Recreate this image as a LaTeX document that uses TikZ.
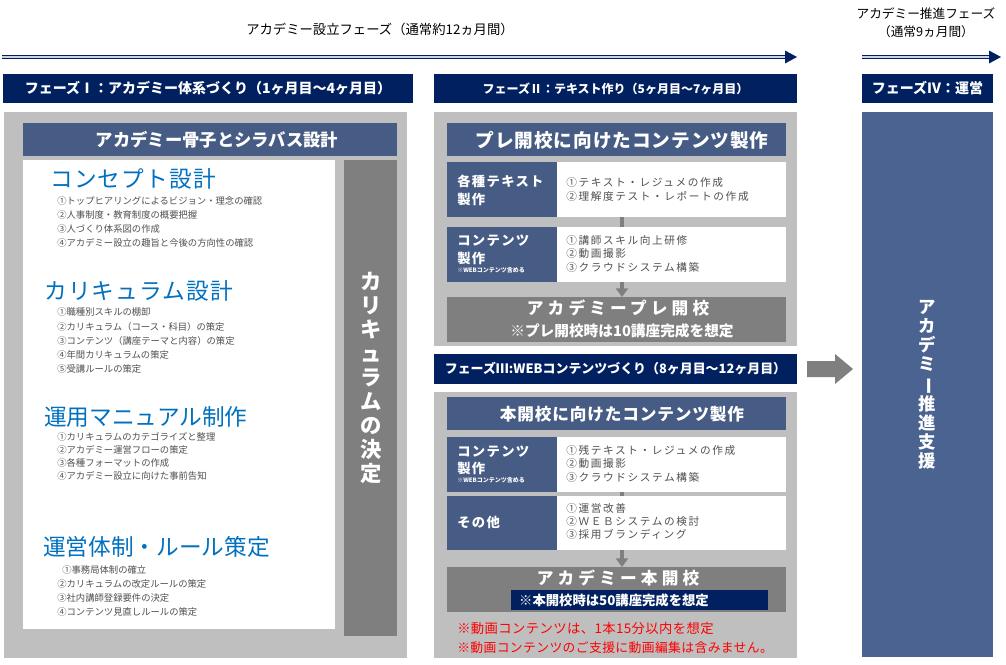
\documentclass[tikz,border=0pt]{standalone}
\usepackage{fontspec}
\setmainfont{Noto Sans CJK JP}
\usepackage{graphicx}
\usetikzlibrary{fit,arrows.meta}
\definecolor{navy}{HTML}{002060}
\definecolor{steel}{HTML}{475C84}
\definecolor{steelb}{HTML}{4B6390}
\definecolor{lgray}{HTML}{BFBFBF}
\definecolor{dgray}{HTML}{7F7F7F}
\definecolor{tblue}{HTML}{0070C0}
\definecolor{itemc}{HTML}{505050}
\definecolor{redc}{HTML}{FF0000}
\newcommand\lsp[1]{\addfontfeature{LetterSpace=#1}}
\newcommand\fs[1]{\fontsize{#1}{#1}\selectfont}
\begin{document}
\begin{tikzpicture}[x=0.75pt,y=-0.75pt,
  rect/.style={inner sep=0pt, outer sep=0pt, draw=none},
  txt/.style={inner sep=0pt, anchor=west},
  ctxt/.style={inner sep=0pt},
  hdrtxt/.style={inner sep=0pt, text=white, font=\bfseries\fs{10.5}},
  ttl/.style={txt, text=tblue, font=\fs{17}},
  item/.style={txt, text=itemc, font=\fs{7}},
  mitem/.style={txt, text=itemc, font=\fs{8}\lsp{15}},
  lab/.style={txt, text=white, font=\bfseries\fs{10}\lsp{10}},
  smallnote/.style={txt, text=white, font=\bfseries\fs{4.5}},
  conn/.style={dgray, line width=3.5pt},
  connarr/.style={dgray, line width=3pt, -{Triangle[width=9pt,length=6.5pt]}},
  phasearrow/.style={navy, line width=0.9pt, double=white!80!navy, double distance=1.6pt},
]
\useasboundingbox (0,0) rectangle (1006,664);
\fill[white] (0,0) rectangle (1006,664);

% ---------- top titles and arrows ----------
\node[ctxt, font=\fs{10}] (t1) at (380,29) {アカデミー設立フェーズ（通常約12ヵ月間）};
\node[ctxt, font=\fs{9.5}] (t2a) at (926,14) {アカデミー推進フェーズ};
\node[ctxt, font=\fs{9.5}] (t2b) at (926,32) {（通常9ヵ月間）};

\coordinate (a1s) at (2,57);
\coordinate (a1e) at (787,57);
\draw[phasearrow] (a1s) -- (a1e);
\fill[navy] (785,50.5) -- (797,57) -- (785,63.5) -- cycle;
\coordinate (a2s) at (862,57);
\coordinate (a2e) at (991,57);
\draw[phasearrow] (a2s) -- (a2e);
\fill[navy] (989,50.5) -- (1001,57) -- (989,63.5) -- cycle;

% ---------- phase headers ----------
\node[rect, fill=navy, fit={(3,74)(413,103)}] (h1) {};
\node[hdrtxt] at (h1.center) {フェーズⅠ：アカデミー体系づくり（1ヶ月目～4ヶ月目）};
\node[rect, fill=navy, fit={(434,74)(797,103)}] (h2) {};
\node[hdrtxt, font=\bfseries\fs{9}] at (h2.center) {フェーズⅡ：テキスト作り（5ヶ月目～7ヶ月目）};
\node[rect, fill=navy, fit={(862,74)(993,103)}] (h4) {};
\node[hdrtxt] at (h4.center) {フェーズⅣ：運営};

% ---------- Phase I panel ----------
\node[rect, fill=lgray, fit={(4,112)(407,658)}] (p1) {};
\node[rect, fill=steel, fit={(23,123)(397,156)}] (p1h) {};
\node[ctxt, text=white, font=\bfseries\fs{13}] at (217,140) {アカデミー骨子とシラバス設計};
\node[rect, fill=white, fit={(23,160)(335,629)}] (p1w) {};
\node[rect, fill=dgray, fit={(344,160)(397,636)}] (p1v) {};
\node[ctxt, text=white, font=\bfseries\fontsize{16}{18}\selectfont, align=center] at (371,378)
  {カ\\リ\\キ\\ュ\\ラ\\ム\\の\\決\\定};

\node[ttl] at (50,179) {\lsp{5}コンセプト設計};
\node[item] at (57,201) {①トップヒアリングによるビジョン・理念の確認};
\node[item] at (57,215) {②人事制度・教育制度の概要把握};
\node[item] at (57,229) {③人づくり体系図の作成};
\node[item] at (57,243) {④アカデミー設立の趣旨と今後の方向性の確認};

\node[ttl] at (44,291) {\lsp{5}カリキュラム設計};
\node[item] at (57,312) {①職種別スキルの棚卸};
\node[item] at (57,327) {②カリキュラム（コース・科目）の策定};
\node[item] at (57,341) {③コンテンツ（講座テーマと内容）の策定};
\node[item] at (57,355) {④年間カリキュラムの策定};
\node[item] at (57,369) {⑤受講ルールの策定};

\node[ttl] at (44,417) {運用マニュアル制作};
\node[item] at (57,437) {①カリキュラムのカテゴライズと整理};
\node[item] at (57,450) {②アカデミー運営フローの策定};
\node[item] at (57,463) {③各種フォーマットの作成};
\node[item] at (57,476) {④アカデミー設立に向けた事前告知};

\node[ttl] at (43,547) {運営体制・ルール策定};
\node[item] at (62,570) {①事務局体制の確立};
\node[item] at (57,584) {②カリキュラムの改定ルールの策定};
\node[item] at (57,598) {③社内講師登録要件の決定};
\node[item] at (57,612) {④コンテンツ見直しルールの策定};

% ---------- Phase II panel ----------
\coordinate (cx) at (622,0);
\node[rect, fill=lgray, fit={(434,112)(797,346)}] (p2) {};
\node[rect, fill=steel, fit={(447,123)(786,156)}] (p2h) {};
\node[ctxt, text=white, font=\bfseries\fs{14}\lsp{5}] at (622,140) {プレ開校に向けたコンテンツ製作};

\node[rect, fill=steel, fit={(447,162)(557,217)}] (r1l) {};
\node[rect, fill=white, fit={(557,162)(786,217)}] (r1w) {};
\node[lab] at (457,181) {各種テキスト};
\node[lab] at (457,199) {製作};
\node[mitem] at (566,182) {①テキスト・レジュメの作成};
\node[mitem] at (566,196) {②理解度テスト・レポートの作成};

\node[rect, fill=steel, fit={(447,227)(557,282)}] (r2l) {};
\node[rect, fill=white, fit={(557,227)(786,282)}] (r2w) {};
\node[lab] at (457,241) {コンテンツ};
\node[lab] at (457,258) {製作};
\node[smallnote] at (457,270) {※WEBコンテンツ含める};
\node[mitem] at (566,240) {①講師スキル向上研修};
\node[mitem] at (566,253) {②動画撮影};
\node[mitem] at (566,267) {③クラウドシステム構築};

\node[rect, fill=dgray, fit={(447,297)(786,342)}] (pre) {};
\node[ctxt, text=white, font=\bfseries\fs{12.5}\lsp{25}] at (618,308) {アカデミープレ開校};
\node[ctxt, text=white, font=\bfseries\fs{11}] at (622,331) {※プレ開校時は10講座完成を想定};

\draw[conn] (r1w.south -| cx) -- (r2w.north -| cx);
\draw[connarr] (r2w.south -| cx) -- (pre.north -| cx);

% ---------- Phase III ----------
\node[rect, fill=navy, fit={(434,354)(797,384)}] (h3) {};
\node[hdrtxt, font=\bfseries\fs{9.7}] at (h3.center) {フェーズⅢ:WEBコンテンツづくり（8ヶ月目～12ヶ月目）};
\node[rect, fill=lgray, fit={(434,392)(797,658)}] (p3) {};
\node[rect, fill=steel, fit={(447,397)(786,430)}] (p3h) {};
\node[ctxt, text=white, font=\bfseries\fs{12.5}\lsp{5}] at (622,414) {本開校に向けたコンテンツ製作};

\node[rect, fill=steel, fit={(447,437)(557,492)}] (rAl) {};
\node[rect, fill=white, fit={(557,437)(786,492)}] (rAw) {};
\node[lab] at (457,452) {コンテンツ};
\node[lab] at (457,468) {製作};
\node[smallnote] at (457,480) {※WEBコンテンツ含める};
\node[mitem] at (566,450) {①残テキスト・レジュメの作成};
\node[mitem] at (566,463) {②動画撮影};
\node[mitem] at (566,477) {③クラウドシステム構築};

\node[rect, fill=steel, fit={(447,496)(557,550)}] (rBl) {};
\node[rect, fill=white, fit={(557,496)(786,550)}] (rBw) {};
\node[lab] at (457,522) {その他};
\node[mitem] at (566,508) {①運営改善};
\node[mitem] at (566,521) {②ＷＥＢシステムの検討};
\node[mitem] at (566,534) {③採用ブランディング};

\node[rect, fill=dgray, fit={(447,567)(786,612)}] (hon) {};
\node[ctxt, text=white, font=\bfseries\fs{12.5}\lsp{25}] at (618,578) {アカデミー本開校};
\node[rect, fill=navy, fit={(511,590)(768,610)}] (honn) {};
\node[ctxt, text=white, font=\bfseries\fs{10}] at (614,600) {※本開校時は50講座完成を想定};

\draw[conn] (rAw.south -| cx) -- (rBw.north -| cx);
\draw[connarr] (rBw.south -| cx) -- (hon.north -| cx);

\node[txt, text=redc, font=\fs{10}\lsp{3}] at (457,628) {※動画コンテンツは、1本15分以内を想定};
\node[txt, text=redc, font=\fs{9.6}\lsp{3}] at (457,648) {※動画コンテンツのご支援に動画編集は含みません。};

% ---------- Phase IV ----------
\node[rect, fill=steelb, fit={(862,112)(993,657)}] (p4) {};
\node[ctxt, text=white, font=\bfseries\fontsize{13}{14.3}\selectfont, align=center] at (927,385)
  {ア\\カ\\デ\\ミ\\\rotatebox[origin=c]{-90}{ー}\\推\\進\\支\\援};

% big arrow between phases
\fill[dgray] (807,361) -- (835,361) -- (835,354) -- (853,369) -- (835,384) -- (835,377) -- (807,377) -- cycle;
\end{tikzpicture}
\end{document}
